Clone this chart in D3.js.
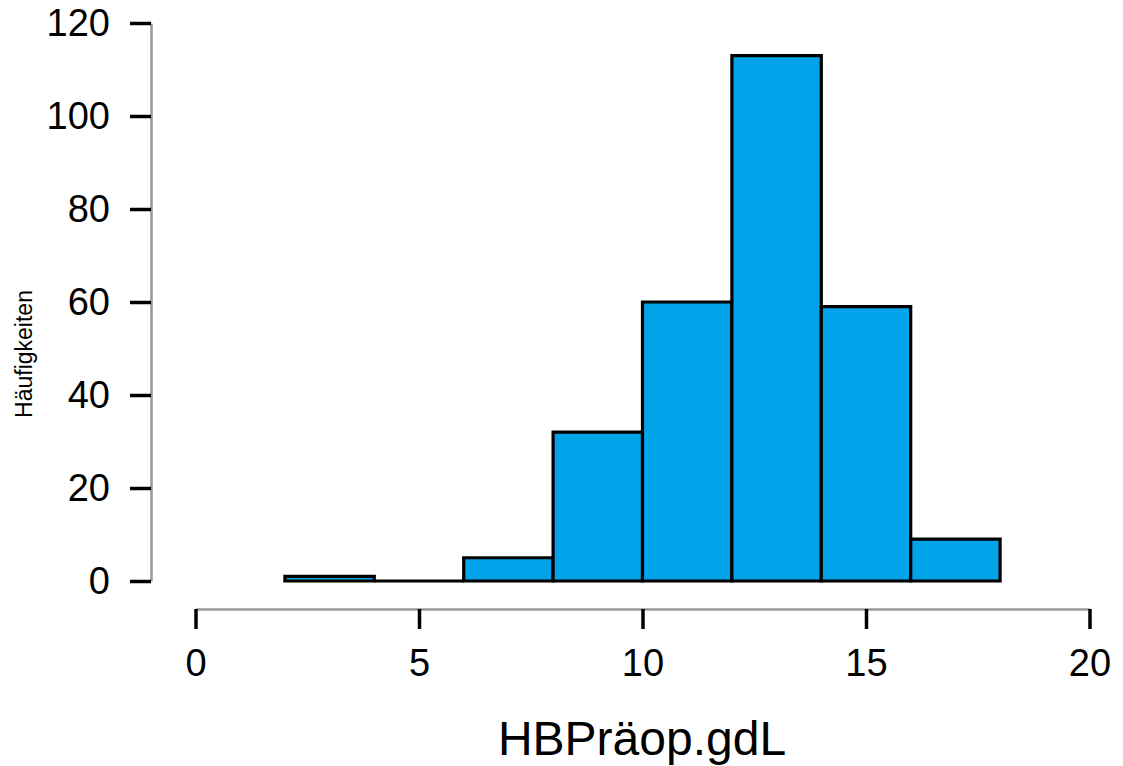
<!DOCTYPE html>
<html>
<head>
<meta charset="utf-8">
<script src="https://cdn.jsdelivr.net/npm/d3@7"></script>
<style>
  body { margin: 0; background: #fff; }
  svg { display: block; font-family: "Liberation Sans", Arial, sans-serif; }
</style>
</head>
<body>
<div id="chart"></div>
<script>
// histogram bins (lower/upper edge) and counts
const binStart = [2, 4, 6, 8, 10, 12, 14, 16];
const binEnd = [4, 6, 8, 10, 12, 14, 16, 18];
const counts = [1, 0, 5, 32, 60, 113, 59, 9];
const xTicks = [0, 5, 10, 15, 20];
const yTicks = [0, 20, 40, 60, 80, 100, 120];

const width = 1123;
const height = 766;

const svg = d3.select('#chart').append('svg')
  .attr('width', width)
  .attr('height', height);

const x = d3.scaleLinear().domain([0, 20]).range([195.5, 1089.5]);
const y = d3.scaleLinear().domain([0, 120]).range([581, 23]);

// bars drawn as closed paths so an empty bin still shows its outline
const bins = binStart.map((s, i) => ({ x0: s, x1: binEnd[i], n: counts[i] }));
svg.selectAll('.bar')
  .data(bins)
  .enter().append('path')
  .attr('class', 'bar')
  .attr('d', d => {
    const p = d3.path();
    p.moveTo(x(d.x0), y(0));
    p.lineTo(x(d.x0), y(d.n));
    p.lineTo(x(d.x1), y(d.n));
    p.lineTo(x(d.x1), y(0));
    p.closePath();
    return p.toString();
  })
  .attr('fill', '#02a3e9')
  .attr('stroke', '#000')
  .attr('stroke-width', 3.2)
  .attr('stroke-linejoin', 'miter');

// y axis
const yAxis = svg.append('g')
  .attr('transform', 'translate(151,0)')
  .call(d3.axisLeft(y).tickValues(yTicks).tickSize(21).tickSizeOuter(0).tickPadding(20));

// x axis
const xAxis = svg.append('g')
  .attr('transform', 'translate(0,609)')
  .call(d3.axisBottom(x).tickValues(xTicks).tickSize(20).tickSizeOuter(0).tickPadding(20));

[yAxis, xAxis].forEach(a => {
  a.select('.domain').attr('stroke', '#999').attr('stroke-width', 2.5);
  a.selectAll('.tick line').attr('stroke', '#000').attr('stroke-width', 3.5);
  a.selectAll('.tick text')
    .attr('fill', '#000')
    .style('font-size', '38px')
    .style('font-family', '"Liberation Sans", Arial, sans-serif');
});

// axis titles
svg.append('text')
  .attr('x', 642)
  .attr('y', 755)
  .attr('text-anchor', 'middle')
  .attr('font-size', '48px')
  .text('HBPräop.gdL');

svg.append('text')
  .attr('transform', 'translate(32,354) rotate(-90)')
  .attr('text-anchor', 'middle')
  .attr('font-size', '23px')
  .text('Häufigkeiten');
</script>
</body>
</html>
